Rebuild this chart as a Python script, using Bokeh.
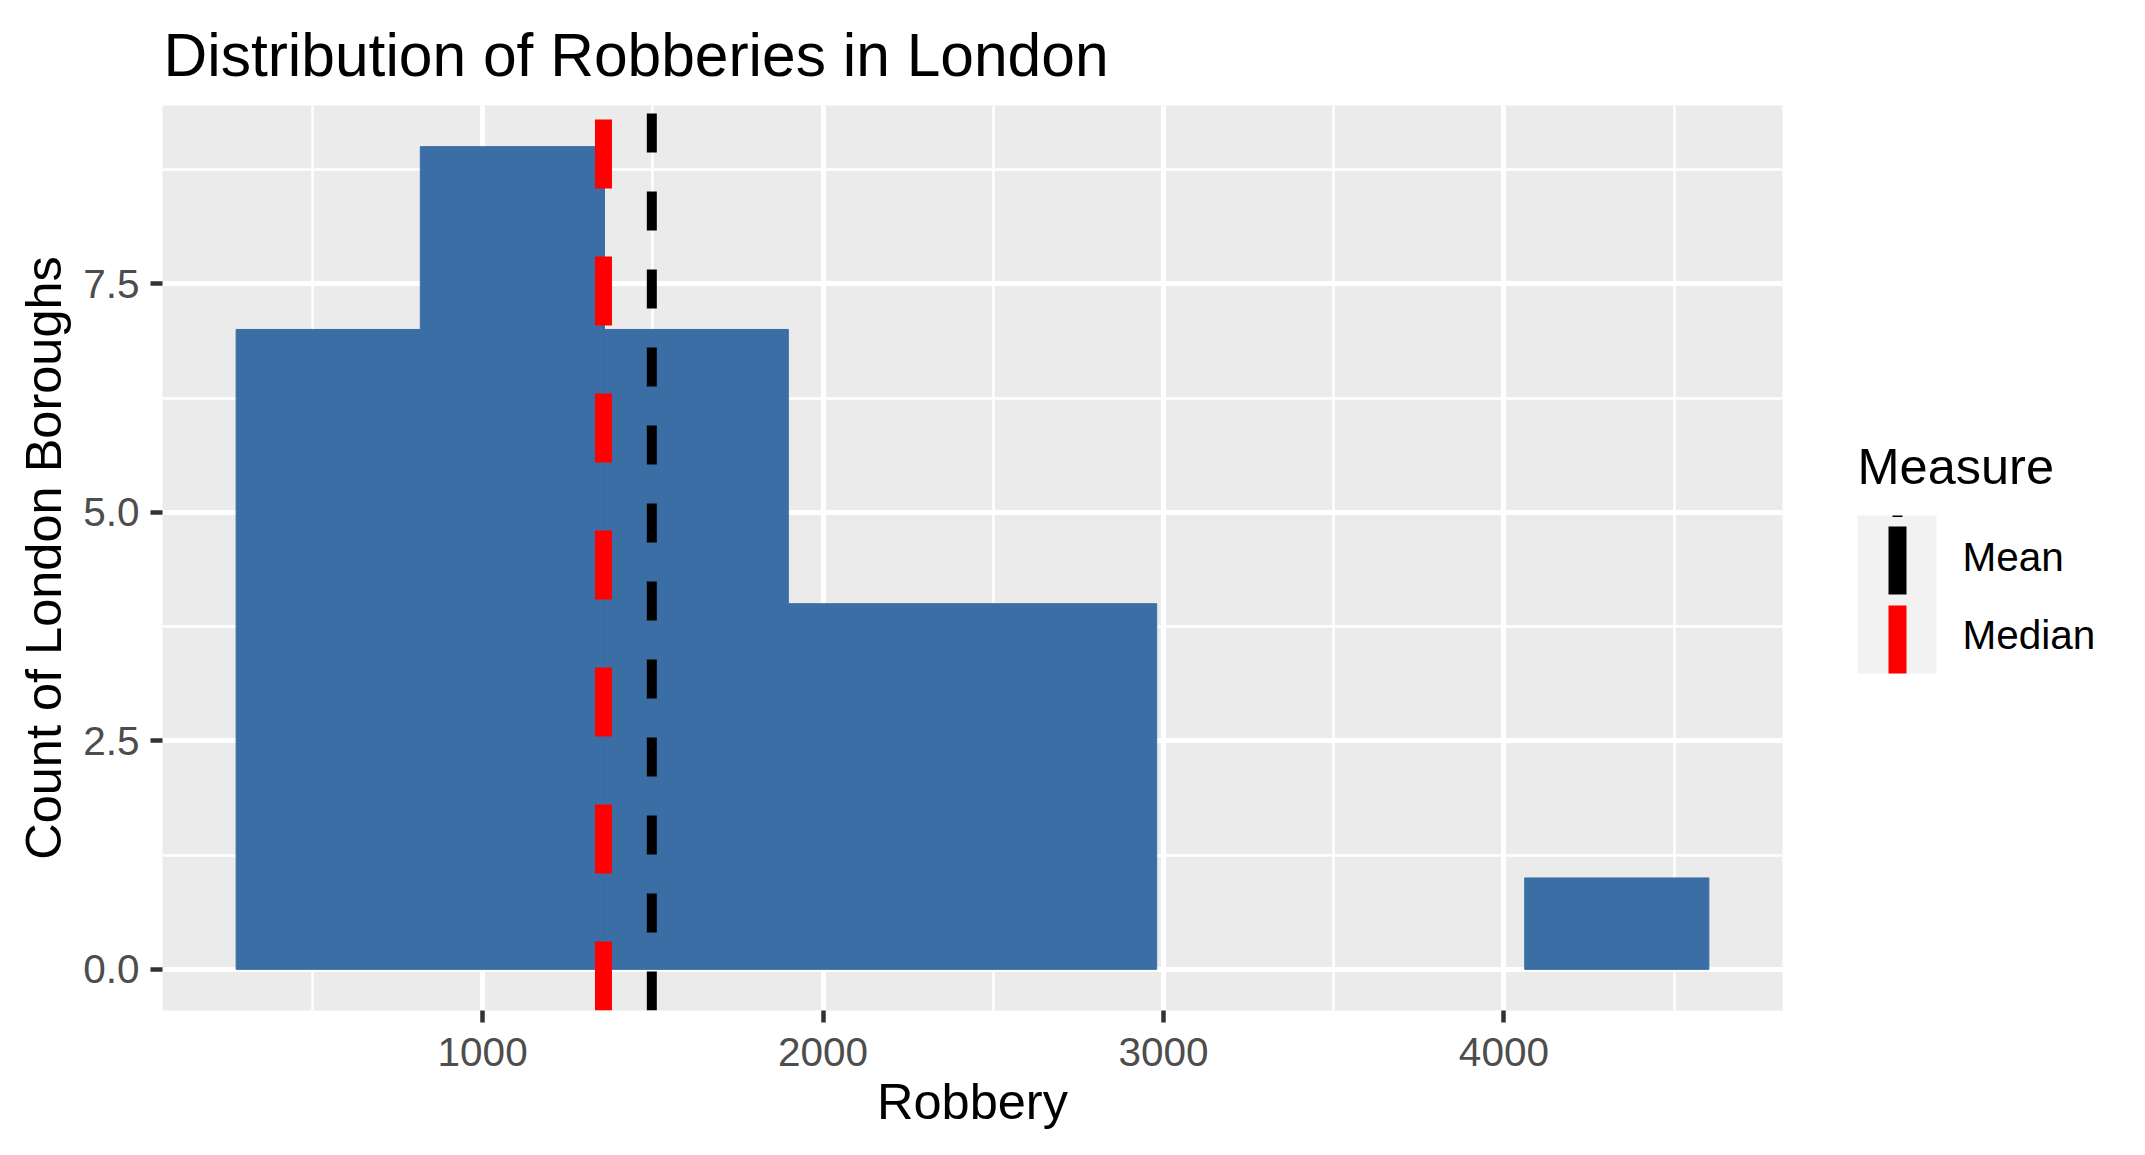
from bokeh.plotting import figure
from bokeh.models import Range1d, FixedTicker, PrintfTickFormatter
from bokeh.layouts import row
from bokeh.core.properties import value
from bokeh.embed import file_html
from bokeh.resources import INLINE

# ---- data ----
bin_edges = [276, 817, 1358, 1898, 2439, 2980, 3521, 4061, 4602]
counts = [7, 9, 7, 4, 4, 0, 0, 1]
mean_robbery = 1497
median_robbery = 1355
x_ticks = [1000, 2000, 3000, 4000]
x_minor = [500, 1500, 2500, 3500, 4500]
y_ticks = [0, 2.5, 5.0, 7.5]
y_minor = [1.25, 3.75, 6.25, 8.75]
legend_labels = ["Mean", "Median"]

FONT = "Liberation Sans"
BAR = "#3A6EA5"
PANEL = "#EBEBEB"

BL, BT, BR, BB = 162, 105, 25, 136
FW, FH = 1620, 905
W = BL + FW + BR
H = BT + FH + BB

lefts = bin_edges[:-1]
rights = bin_edges[1:]
# outline only non-empty bins (hides seams between neighbours, nothing for empty bins)
bar_lines = [BAR if c > 0 else None for c in counts]

xspan = bin_edges[-1] - bin_edges[0]
x_lo = bin_edges[0] - 0.05 * xspan
x_hi = bin_edges[-1] + 0.05 * xspan
ymax_c = max(counts)
y_lo = -0.05 * ymax_c
y_hi = ymax_c + 0.05 * ymax_c

p = figure(width=W, height=H, output_backend="svg", toolbar_location=None,
           x_range=Range1d(x_lo, x_hi), y_range=Range1d(y_lo, y_hi),
           min_border_left=BL, min_border_right=BR, min_border_top=BT, min_border_bottom=BB,
           title="Distribution of Robberies in London")
p.background_fill_color = PANEL
p.border_fill_color = "white"
p.outline_line_color = None

p.title.text_font = FONT
p.title.text_font_size = "60.5px"
p.title.text_font_style = "normal"
p.title.text_color = "black"
p.title.offset = 1
p.title.standoff = 33

p.xaxis.ticker = FixedTicker(ticks=x_ticks, minor_ticks=x_minor)
p.yaxis.ticker = FixedTicker(ticks=y_ticks, minor_ticks=y_minor)
p.yaxis.formatter = PrintfTickFormatter(format="%.1f")
for g in (p.xgrid, p.ygrid):
    g.grid_line_color = "white"
    g.grid_line_width = 5
    g.minor_grid_line_color = "white"
    g.minor_grid_line_width = 2.5

for ax in (p.xaxis, p.yaxis):
    ax.axis_line_color = None
    ax.major_tick_line_color = "#333333"
    ax.major_tick_line_width = 4.5
    ax.major_tick_out = 12
    ax.major_tick_in = 0
    ax.minor_tick_line_color = None
    ax.major_label_text_font = FONT
    ax.major_label_text_font_size = "40.5px"
    ax.major_label_text_color = "#4D4D4D"
    ax.axis_label_text_font = FONT
    ax.axis_label_text_font_size = "50.5px"
    ax.axis_label_text_font_style = "normal"
    ax.axis_label_text_color = "black"

p.xaxis.axis_label = "Robbery"
p.yaxis.axis_label = "Count of London Boroughs"
p.xaxis.major_label_standoff = 15
p.xaxis.axis_label_standoff = 4
p.yaxis.major_label_standoff = 11
p.yaxis.axis_label_standoff = 8

p.quad(left=lefts, right=rights, bottom=[0] * len(counts), top=counts,
       fill_color=BAR, line_color=bar_lines, line_width=1)

p.segment(x0=[mean_robbery], x1=[mean_robbery], y0=[y_lo], y1=[y_hi],
          line_color="black", line_width=10, line_dash="39 39", line_cap="butt")
p.segment(x0=[median_robbery], x1=[median_robbery], y0=[y_lo], y1=[y_hi],
          line_color="red", line_width=17, line_dash="69 68", line_cap="butt")

# ---- legend panel (its frame is aligned with the main frame by the row layout) ----
LW = 300
leg = figure(width=LW, height=H, output_backend="svg", toolbar_location=None,
             x_range=Range1d(0, LW), y_range=Range1d(BT + FH, BT),
             min_border_left=0, min_border_right=0,
             min_border_top=BT, min_border_bottom=BB)
leg.axis.visible = False
leg.grid.visible = False
leg.outline_line_color = None
leg.background_fill_color = "white"
leg.border_fill_color = "white"

leg.quad(left=[50], right=[129], top=[515], bottom=[673], fill_color="#F2F2F2", line_color=None)
leg.quad(left=[85], right=[95], top=[515], bottom=[516.5], fill_color="black", line_color=None)
leg.quad(left=[81], right=[99], top=[526], bottom=[594], fill_color="black", line_color=None)
leg.quad(left=[81], right=[99], top=[605], bottom=[673], fill_color="red", line_color=None)

leg.text(x=[50], y=[466], text=["Measure"], text_font=value(FONT), text_font_size="50.5px",
         text_color="black", text_baseline="alphabetic", text_align="left")
leg.text(x=[155, 155], y=[556, 634], text=legend_labels, text_font=value(FONT),
         text_font_size="40.5px", text_color="black", text_baseline="alphabetic", text_align="left")

layout = row(p, leg)
open("out.html", "w").write(file_html(layout, INLINE))
